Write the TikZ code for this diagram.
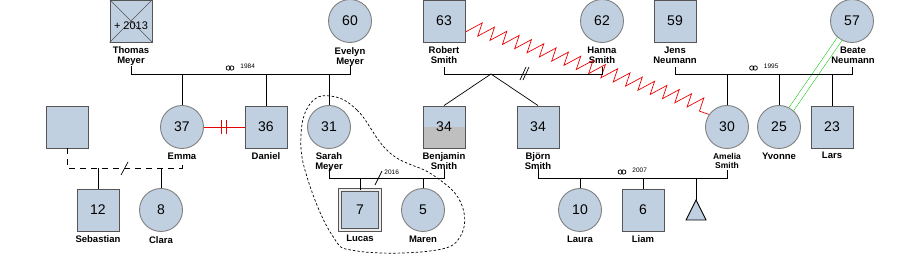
\documentclass[tikz,border=0pt]{standalone}
\usepackage{fontspec}
\setmainfont{Liberation Sans}
\usetikzlibrary{positioning,decorations.pathmorphing}
\definecolor{nodeblue}{RGB}{193,208,224}
\definecolor{edgegray}{RGB}{85,85,85}
\definecolor{ringgray}{RGB}{128,128,128}
\definecolor{hostred}{RGB}{235,0,0}
\definecolor{closegreen}{RGB}{0,200,0}
\tikzset{
  malebox/.style={draw=edgegray,fill=nodeblue,line width=0.9pt,minimum size=42pt,inner sep=0pt,font=\fontsize{14}{14}\selectfont},
  femalecirc/.style={circle,draw=ringgray,fill=nodeblue,line width=0.9pt,minimum size=43pt,inner sep=0pt,font=\fontsize{14}{14}\selectfont},
  lbl/.style={font=\bfseries\fontsize{9.5}{10}\selectfont,align=center,inner sep=0pt},
  yr/.style={font=\fontsize{6.5}{7}\selectfont,inner sep=0pt,anchor=west},
  wedring/.style={line width=0.7pt}
}
\begin{document}
\begin{tikzpicture}[x=1pt,y=-1pt,line width=0.9pt]
\useasboundingbox (0,0) rectangle (900,256);
% grandparents
\node[malebox] (thomas) at (131,21) {};
\draw[thin,edgegray] (thomas.north west) -- (thomas.south east) (thomas.north east) -- (thomas.south west);
\node[font=\fontsize{11}{11}\selectfont] (thomasd) at (131,26) {+ 2013};
\node[femalecirc] (evelyn) at (350,21) {60};
\node[malebox] (robert) at (444,21) {63};
\node[femalecirc] (hanna) at (602,21) {62};
\node[malebox] (jens) at (675,21) {59};
\node[femalecirc] (beate) at (852,21) {57};
% parents
\node[malebox] (unknown) at (67,127) {};
\node[femalecirc] (emma) at (182,127) {37};
\node[malebox] (daniel) at (266,127) {36};
\node[femalecirc] (sarah) at (329,127) {31};
\node[malebox,path picture={\fill[black!25] (path picture bounding box.west) rectangle (path picture bounding box.south east);}] (benjamin) at (444,127) {34};
\node[malebox] (bjorn) at (538,127) {34};
\node[femalecirc] (amelia) at (727,127) {30};
\node[femalecirc] (yvonne) at (779,127) {25};
\node[malebox] (lars) at (832,127) {23};
% children
\node[malebox] (sebastian) at (98,210) {12};
\node[femalecirc] (clara) at (161,210) {8};
\node[malebox,double=gray!15,double distance=1.4pt,minimum size=40pt] (lucas) at (360,210) {7};
\node[femalecirc] (maren) at (423,210) {5};
\node[femalecirc] (laura) at (580,210) {10};
\node[malebox] (liam) at (643,210) {6};
\coordinate (preg) at (696,200);
\draw[fill=nodeblue] (preg) -- ++(-10,20) -- ++(20,0) -- cycle;
% names
\node[lbl,below=4pt of thomas] (thomasl) {Thomas\\Meyer};
\node[lbl,below=4pt of evelyn] (evelynl) {Evelyn\\Meyer};
\node[lbl,below=4pt of robert] (robertl) {Robert\\Smith};
\node[lbl,below=4pt of hanna] (hannal) {Hanna\\Smith};
\node[lbl,below=4pt of jens] (jensl) {Jens\\Neumann};
\node[lbl,below=4pt of beate,xshift=1pt] (beatel) {Beate\\Neumann};
\node[lbl,below=3.5pt of emma] (emmal) {Emma};
\node[lbl,below=3.5pt of daniel] (daniell) {Daniel};
\node[lbl,below=3.5pt of sarah] (sarahl) {Sarah\\Meyer};
\node[lbl,below=3.5pt of benjamin] (benjaminl) {Benjamin\\Smith};
\node[lbl,below=3.5pt of bjorn] (bjornl) {Björn\\Smith};
\node[lbl,below=3.5pt of amelia,font=\bfseries\fontsize{8.5}{9.5}\selectfont] (amelial) {Amelia\\Smith};
\node[lbl,below=3.5pt of yvonne] (yvonnel) {Yvonne};
\node[lbl,below=3.5pt of lars] (larsl) {Lars};
\node[lbl,below=4pt of sebastian] (sebastianl) {Sebastian};
\node[lbl,below=4pt of clara] (claral) {Clara};
\node[lbl,below=4pt of lucas] (lucasl) {Lucas};
\node[lbl,below=4pt of maren] (marenl) {Maren};
\node[lbl,below=4pt of laura] (laural) {Laura};
\node[lbl,below=4pt of liam] (liaml) {Liam};
% emotional relations
\draw[closegreen,line width=0.5pt,double=white,double distance=5pt] (beate) -- (yvonne);
\draw[hostred,line width=0.7pt,decorate,decoration={saw,segment length=13pt,amplitude=14pt}] ([yshift=-11pt]robert.east) -- (amelia.145);
\draw[hostred] (emma) -- (daniel) coordinate[pos=0.5] (cf);
\draw[hostred] ([xshift=-2.5pt]cf) ++(0,-7) -- ++(0,14) ([xshift=2.5pt]cf) ++(0,-7) -- ++(0,14);
% couples
\coordinate (m1) at (230,74);
\coordinate (m2) at (491,74);
\coordinate (m3) at (753.5,74);
\coordinate (m4) at (130,168);
\coordinate (m5) at (378,178);
\coordinate (m6) at (622,178);
\draw ([yshift=-45pt]thomas.center) -- ++(0,8) -| ([yshift=-45pt]evelyn.center);
\draw ([yshift=-46pt]robert.center) -- ++(0,7) -| ([yshift=-46pt]hanna.center);
\draw ([yshift=-46pt]jens.center) -- ++(0,7) -| ([yshift=-46pt]beate.center);
\draw[dash pattern=on 6pt off 5pt] (unknown.south) -- ++(0,20) -| ([yshift=-35pt]emma.center);
\draw ([yshift=-41pt]sarah.center) -- ++(0,10) -| ([yshift=-41pt]benjamin.center);
\draw ([yshift=-41pt]bjorn.center) -- ++(0,10) -| ([yshift=-43pt]amelia.center);
% descent
\foreach \c in {emma,daniel,sarah} \draw (\c.north) -- (\c.north |- m1);
\foreach \c in {amelia,yvonne,lars} \draw (\c.north) -- (\c.north |- m3);
\foreach \c in {sebastian,clara} \draw (\c.north) -- (\c.north |- m4);
\foreach \c in {lucas,maren} \draw (\c.north) -- (\c.north |- m5);
\foreach \c in {laura,liam,preg} \draw (\c.north) -- (\c.north |- m6);
\draw[line width=0.7pt] (benjamin.north) -- (m2) -- (bjorn.north);
% marks
\draw[line width=0.7pt] (520,80) -- (526,67) (523,80) -- (529,67);
\draw[line width=0.7pt] (121,175) -- (128,162);
\draw[line width=0.7pt] (375,185) -- (382,171);
\node[yr] (y2016) at (384,172) {2016};
\foreach \m/\y in {m1/1984,m3/1995,m6/2007}{
  \draw[wedring] ([shift={(-1.7pt,6pt)}]\m) circle (2.2pt) ([shift={(1.7pt,6pt)}]\m) circle (2.2pt);
  \node[yr] at ([shift={(10pt,8pt)}]\m) {\y};
}
\draw[line width=0.7pt,dash pattern=on 2.5pt off 2pt] plot[smooth cycle,tension=0.7] coordinates {(330,96) (357,110) (390,153) (433,175) (461,203) (460,237) (430,251) (357,251) (332,235) (307,177) (301,135) (310,104)};
\end{tikzpicture}
\end{document}
